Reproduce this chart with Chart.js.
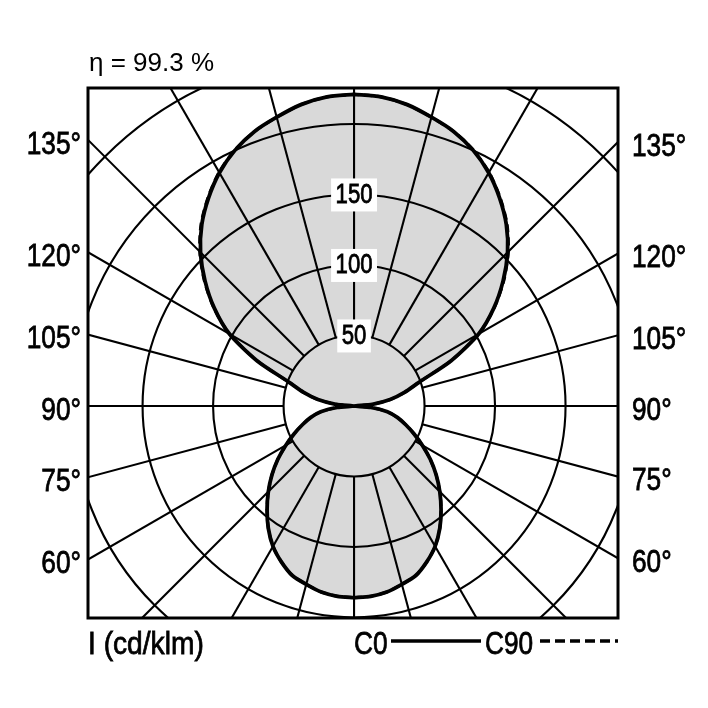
<!DOCTYPE html>
<html>
<head>
<meta charset="utf-8">
<script src="https://cdn.jsdelivr.net/npm/chart.js@4.4.1/dist/chart.umd.min.js"></script>
<style>
  html, body { margin: 0; padding: 0; background: #fff; }
  #wrap { width: 708px; height: 708px; position: relative; }
</style>
</head>
<body>
<div id="wrap"><canvas id="ldc"></canvas></div>
<script>
// ---------- Data (cd/klm), gamma measured from nadir ----------
var gammaAngles = [0, 5, 10, 15, 20, 25, 30, 35, 40, 45, 50, 55, 60, 65, 70, 75, 80, 85, 90,
                   95, 100, 105, 110, 115, 120, 125, 130, 135, 140, 145, 150, 155, 160, 165, 170, 175, 180];
var c0Values  = [136, 135.5, 134, 131, 128, 122, 115, 106, 96, 86, 76, 66, 56, 47, 39, 32, 24, 12, 0,
                 13, 26, 37, 49, 76, 102, 121, 138, 154, 168, 180, 191, 200, 207, 212, 217, 220, 221];
var c90Values = [136, 135.5, 134, 131, 128, 122, 115, 106, 96, 86, 76, 66, 56, 47, 39, 32, 24, 12, 0,
                 13, 26, 37, 49, 76, 102, 121.5, 138.8, 154.8, 168.8, 180.6, 191.5, 200.3, 207, 212, 217, 220, 221];

var ringValues = [50, 100, 150, 200, 250, 300];
var ringLabels = [50, 100, 150];
var sideAngles = [60, 75, 90, 105, 120, 135];
var spokeStep = 15;

var efficiencyText = '\u03B7 = 99.3 %';
var unitText = 'I (cd/klm)';
var seriesNames = ['C0', 'C90'];

// ---------- Helpers ----------
var baseFont = "'Liberation Sans', Arial, sans-serif";

// condensed text: regular face squeezed horizontally, lightly stroked for weight
function narrowText(ctx, text, x, y, align, size, squeeze) {
  squeeze = squeeze || 0.82;
  ctx.save();
  ctx.font = size + 'px ' + baseFont;
  var w = ctx.measureText(text).width * squeeze;
  var x0 = x;
  if (align === 'right') x0 = x - w;
  if (align === 'center') x0 = x - w / 2;
  ctx.translate(x0, y);
  ctx.scale(squeeze, 1);
  ctx.textAlign = 'left';
  ctx.fillText(text, 0, 0);
  ctx.strokeStyle = ctx.fillStyle;
  ctx.lineWidth = 0.8;
  ctx.strokeText(text, 0, 0);
  ctx.restore();
  return w;
}

// both halves of the plane: right side 0..180, then mirrored left side 180..0
function lobePoints(values) {
  var pts = [];
  var i, g;
  for (i = 0; i < gammaAngles.length; i++) {
    g = gammaAngles[i] * Math.PI / 180;
    pts.push({ x: values[i] * Math.sin(g), y: -values[i] * Math.cos(g) });
  }
  for (i = gammaAngles.length - 1; i >= 0; i--) {
    g = gammaAngles[i] * Math.PI / 180;
    pts.push({ x: -values[i] * Math.sin(g), y: -values[i] * Math.cos(g) });
  }
  return pts;
}

function drawGrid(chart) {
  var ctx = chart.ctx, xs = chart.scales.x, ys = chart.scales.y, a = chart.chartArea;
  var cx = xs.getPixelForValue(0), cy = ys.getPixelForValue(0);
  var k = xs.getPixelForValue(1) - cx;

  ctx.save();
  ctx.beginPath();
  ctx.rect(a.left, a.top, a.right - a.left, a.bottom - a.top);
  ctx.clip();
  ctx.strokeStyle = '#000';
  ctx.lineWidth = 2.1;

  ringValues.forEach(function (r) {
    ctx.beginPath();
    ctx.arc(cx, cy, r * k, 0, Math.PI * 2);
    ctx.stroke();
  });

  var inner = ringValues[0] * k;
  for (var deg = 0; deg < 360; deg += spokeStep) {
    var rad = deg * Math.PI / 180;
    var sx = Math.sin(rad), sy = Math.cos(rad);
    ctx.beginPath();
    ctx.moveTo(cx + inner * sx, cy + inner * sy);
    ctx.lineTo(cx + 800 * sx, cy + 800 * sy);
    ctx.stroke();
  }

  // ring value labels on the vertical axis
  ctx.textBaseline = 'middle';
  ringLabels.forEach(function (v) {
    var y = ys.getPixelForValue(v);
    ctx.font = '27px ' + baseFont;
    var w = ctx.measureText(String(v)).width * 0.82 + 9;
    ctx.fillStyle = '#fff';
    ctx.fillRect(cx - w / 2, y - 16, w, 33);
    ctx.fillStyle = '#000';
    narrowText(ctx, String(v), cx, y + 1, 'center', 27);
  });
  ctx.restore();
}

function drawFrame(chart) {
  var ctx = chart.ctx, xs = chart.scales.x, ys = chart.scales.y, a = chart.chartArea;
  var cx = xs.getPixelForValue(0), cy = ys.getPixelForValue(0);

  ctx.save();
  ctx.strokeStyle = '#000';
  ctx.lineWidth = 3;
  ctx.strokeRect(a.left, a.top, a.right - a.left, a.bottom - a.top);

  // angle labels where the spokes leave the frame
  ctx.fillStyle = '#000';
  ctx.textBaseline = 'middle';
  sideAngles.forEach(function (deg) {
    var rad = deg * Math.PI / 180;
    var yl = cy + (cx - a.left) / Math.sin(rad) * Math.cos(rad);
    var yr = cy + (a.right - cx) / Math.sin(rad) * Math.cos(rad);
    narrowText(ctx, deg + '\u00B0', a.left - 7, yl + 5, 'right', 32);
    narrowText(ctx, deg + '\u00B0', a.right + 14, yr + 5, 'left', 32);
  });

  // efficiency
  ctx.textBaseline = 'alphabetic';
  ctx.textAlign = 'left';
  ctx.font = '26px ' + baseFont;
  ctx.fillText(efficiencyText, 89, 71);

  // unit + legend
  narrowText(ctx, unitText, 88, 654, 'left', 32, 0.88);
  narrowText(ctx, seriesNames[0], 354, 654, 'left', 32);
  narrowText(ctx, seriesNames[1], 485, 654, 'left', 32);

  ctx.lineWidth = 3.5;
  ctx.beginPath();
  ctx.moveTo(391, 641);
  ctx.lineTo(481, 641);
  ctx.stroke();
  ctx.setLineDash([10, 5]);
  ctx.beginPath();
  ctx.moveTo(540, 641);
  ctx.lineTo(618, 641);
  ctx.stroke();
  ctx.restore();
}

var polarGrid = {
  id: 'polarGrid',
  afterDatasetDraw: function (chart, args) {
    if (args.index === 0) drawGrid(chart);
  },
  afterDraw: function (chart) {
    drawFrame(chart);
  }
};

// ---------- Chart ----------
var ctxEl = document.getElementById('ldc');
new Chart(ctxEl, {
  type: 'scatter',
  data: {
    datasets: [
      {
        label: 'fill',
        data: lobePoints(c0Values),
        showLine: true,
        fill: 'shape',
        backgroundColor: '#d9d9d9',
        borderWidth: 0,
        borderColor: 'rgba(0,0,0,0)',
        pointRadius: 0,
        tension: 0.25,
        order: 3
      },
      {
        label: seriesNames[1],
        data: lobePoints(c90Values),
        showLine: true,
        fill: false,
        borderColor: '#000',
        borderWidth: 3,
        borderDash: [8, 5],
        pointRadius: 0,
        tension: 0.25,
        order: 2
      },
      {
        label: seriesNames[0],
        data: lobePoints(c0Values),
        showLine: true,
        fill: false,
        borderColor: '#000',
        borderWidth: 3.8,
        pointRadius: 0,
        tension: 0.25,
        order: 1
      }
    ]
  },
  options: {
    responsive: true,
    maintainAspectRatio: false,
    animation: false,
    events: [],
    layout: { padding: { left: 88, top: 88, right: 90, bottom: 90 } },
    scales: {
      x: { type: 'linear', min: -188.7, max: 187.2, display: false },
      y: { type: 'linear', min: -150.4, max: 225.5, display: false }
    },
    plugins: {
      legend: { display: false },
      tooltip: { enabled: false },
      title: { display: false }
    }
  },
  plugins: [polarGrid]
});
</script>
</body>
</html>
